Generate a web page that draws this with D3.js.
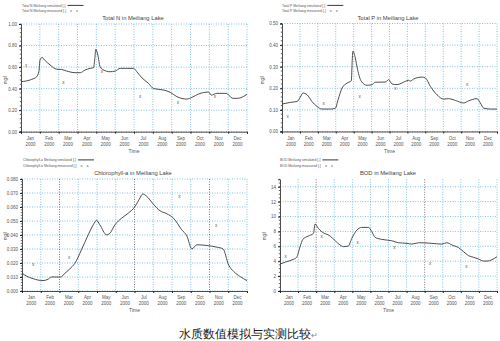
<!DOCTYPE html>
<html><head><meta charset="utf-8">
<script src="https://cdn.jsdelivr.net/npm/d3@7"></script>
<style>body{margin:0;background:#fff}svg{display:block}text{font-family:"Liberation Sans",Arial,sans-serif}</style>
</head><body>
<script>
const monthLabels = ["Jan","Feb","Mar","Apr","May","Jun","Jul","Aug","Sep","Oct","Nov","Dec"];
const yearLabel = "2000";

// Total N (months since Jan 1, value mg/l)
const tnSimT = [0,0.57,0.83,0.95,1.01,1.12,1.25,1.54,1.9,2.15,2.43,2.87,3.15,3.4,3.67,3.85,3.92,3.97,4.08,4.2,4.38,4.73,5.0,5.27,5.6,5.98,6.15,6.42,6.77,7.04,7.57,7.93,8.28,8.81,9.08,9.43,9.96,10.1,10.4,10.9,11.24,11.5,12];
const tnSimV = [0.464,0.486,0.51,0.56,0.666,0.69,0.666,0.62,0.58,0.578,0.563,0.548,0.548,0.573,0.588,0.594,0.68,0.765,0.712,0.604,0.573,0.557,0.563,0.588,0.588,0.588,0.557,0.50,0.449,0.40,0.387,0.365,0.325,0.303,0.319,0.35,0.368,0.34,0.356,0.356,0.31,0.31,0.347];
const tnObsT = [0.27,2.25,4.29,6.33,8.33,10.3];
const tnObsV = [0.613,0.458,0.557,0.325,0.272,0.331];

// Total P
const tpSimT = [0,0.47,0.84,1.02,1.17,1.4,1.67,1.95,2.23,2.7,2.98,3.13,3.35,3.63,3.87,3.92,3.96,4.09,4.22,4.43,4.74,5.02,5.2,5.77,5.95,6.14,6.42,6.88,7.07,7.15,7.35,7.81,8.0,8.28,8.65,9.02,9.3,9.67,10.14,10.42,10.88,11.07,11.26,11.63,12];
const tpSimV = [0.127,0.135,0.139,0.159,0.178,0.17,0.139,0.116,0.104,0.104,0.108,0.147,0.201,0.224,0.235,0.33,0.372,0.341,0.286,0.232,0.214,0.217,0.228,0.229,0.24,0.22,0.217,0.232,0.237,0.233,0.243,0.252,0.248,0.209,0.17,0.15,0.152,0.144,0.132,0.142,0.152,0.132,0.108,0.104,0.104];
const tpObsT = [0.32,2.33,4.33,6.33,10.33];
const tpObsV = [0.07,0.128,0.163,0.201,0.217];

// Chlorophyll-a
const chSimT = [0,0.23,0.59,1.12,1.39,1.57,2.07,2.25,2.55,2.82,3.17,3.53,3.8,3.98,4.15,4.51,4.69,4.96,5.31,5.67,6.03,6.26,6.44,6.65,7.0,7.36,7.72,8.08,8.52,8.79,9.06,9.33,9.86,10.4,10.72,11.02,11.29,11.64,12];
const chSimV = [0.0127,0.0107,0.0088,0.0074,0.0084,0.0100,0.0100,0.0122,0.0158,0.0198,0.0294,0.0401,0.0473,0.0504,0.0473,0.0401,0.0413,0.0473,0.0520,0.0556,0.0604,0.0657,0.0693,0.0676,0.0621,0.0573,0.0552,0.0520,0.0437,0.0394,0.0301,0.0330,0.0325,0.0313,0.0301,0.0186,0.0139,0.0103,0.0074];
const chObsT = [0.59,2.51,8.4,10.36];
const chObsV = [0.0186,0.0241,0.0676,0.0466];

// BOD
const bodSimT = [0,0.37,0.74,0.92,1.11,1.26,1.57,1.85,1.94,2.12,2.31,2.77,3.05,3.32,3.51,3.78,3.97,4.25,4.52,4.89,5.08,5.26,5.63,6.18,6.55,7.02,7.29,7.66,8.4,8.95,9.23,9.51,9.88,10.15,10.43,10.71,10.98,11.26,11.45,12];
const bodSimV = [3.62,3.94,4.25,4.52,5.95,6.93,7.38,7.74,8.99,8.41,7.96,7.38,6.75,6.17,5.95,6.04,7.07,8.18,8.54,8.54,7.96,7.2,6.93,6.75,6.48,6.4,6.3,6.48,6.4,6.3,6.48,6.17,5.81,5.28,4.74,4.52,4.29,4.02,4.02,4.6];
const bodObsT = [0.31,2.31,4.3,6.33,8.31,10.31];
const bodObsV = [4.7,7.38,6.53,5.86,3.71,3.35];

const caption = "水质数值模拟与实测比较";

const svg = d3.select("body").append("svg").attr("width",500).attr("height",341);

function panel(cfg){
  const g = svg.append("g");
  const x = d3.scaleLinear().domain([0,12]).range([cfg.left,cfg.right]);
  const y = d3.scaleLinear().domain([0,cfg.ymax]).range([cfg.bottom,cfg.top]);
  const grid = "#62b4d4";
  cfg.yticks.forEach(v=>{
    g.append("line").attr("x1",cfg.left).attr("x2",cfg.right).attr("y1",y(v)).attr("y2",y(v))
      .attr("stroke",grid).attr("stroke-width",0.8).attr("stroke-dasharray","1,1.5");
  });
  d3.range(1,13).forEach(m=>{
    const dark = (cfg.dark||[]).includes(m);
    g.append("line").attr("x1",x(m)).attr("x2",x(m)).attr("y1",cfg.top).attr("y2",cfg.bottom)
      .attr("stroke",dark?"#555":grid).attr("stroke-width",0.8).attr("stroke-dasharray","1,1.5");
  });
  const ya = d3.axisLeft(y).tickValues(cfg.yticks).tickFormat(cfg.fmt).tickSize(2).tickPadding(2);
  const yg = g.append("g").attr("transform",`translate(${cfg.left},0)`).call(ya);
  yg.select(".domain").attr("stroke","#222").attr("stroke-width",0.8);
  yg.selectAll("text").attr("font-size",4.5).attr("fill","#555");
  yg.selectAll(".tick line").attr("stroke","#222");
  const minor = d3.range(0,cfg.ymax+1e-9,cfg.minor);
  g.selectAll(null).data(minor).enter().append("line")
    .attr("x1",cfg.left-1.2).attr("x2",cfg.left).attr("y1",d=>y(d)).attr("y2",d=>y(d))
    .attr("stroke","#222").attr("stroke-width",0.7);
  const xa = d3.axisBottom(x).tickValues(d3.range(0,13)).tickFormat("").tickSize(2);
  const xg = g.append("g").attr("transform",`translate(0,${cfg.bottom})`).call(xa);
  xg.select(".domain").attr("stroke","#222").attr("stroke-width",0.8);
  xg.selectAll(".tick line").attr("stroke","#222");
  monthLabels.forEach((mn,i)=>{
    g.append("text").attr("x",x(i+0.5)).attr("y",cfg.bottom+8).attr("text-anchor","middle")
      .attr("font-size",4.5).attr("fill","#555").text(mn);
    g.append("text").attr("x",x(i+0.5)).attr("y",cfg.bottom+14).attr("text-anchor","middle")
      .attr("font-size",4.5).attr("fill","#555").text(yearLabel);
  });
  g.append("text").attr("x",(cfg.left+cfg.right)/2).attr("y",cfg.bottom+21).attr("text-anchor","middle")
    .attr("font-size",5).attr("fill","#555").text("Time");
  g.append("text").attr("transform",`translate(${cfg.ylx},${cfg.yly}) rotate(-90)`).attr("text-anchor","middle")
    .attr("font-size",4.5).attr("fill","#555").text("mg/l");
  g.append("text").attr("x",cfg.tx).attr("y",cfg.top-4).attr("text-anchor","middle")
    .attr("font-size",5.8).attr("fill","#444").text(cfg.title);
  // legend
  const t1 = g.append("text").attr("x",cfg.lx).attr("y",cfg.ly).attr("font-size",3.4).attr("fill","#555").text(cfg.leg1);
  const t2 = g.append("text").attr("x",cfg.lx).attr("y",cfg.ly+5.5).attr("font-size",3.4).attr("fill","#555").text(cfg.leg2);
  const w1 = t1.node().getComputedTextLength(), w2 = t2.node().getComputedTextLength();
  g.append("line").attr("x1",cfg.lx+w1+2).attr("x2",cfg.lx+w1+18).attr("y1",cfg.ly-1.1).attr("y2",cfg.ly-1.1).attr("stroke","#222").attr("stroke-width",0.9);
  [cfg.lx+w2+5,cfg.lx+w2+11].forEach(px=>g.append("text").attr("x",px).attr("y",cfg.ly+5.5).attr("text-anchor","middle").attr("font-size",4).attr("fill","#555").text("x"));
  const pts = cfg.st.map((t,i)=>[t,cfg.sv[i]]);
  g.append("path").attr("d",d3.line().x(d=>x(d[0])).y(d=>y(d[1])).curve(d3.curveMonotoneX)(pts))
    .attr("fill","none").attr("stroke","#3a3a3a").attr("stroke-width",0.9);
  cfg.ot.forEach((t,i)=>{
    g.append("text").attr("x",x(t)).attr("y",y(cfg.ov[i])+1.5).attr("text-anchor","middle")
      .attr("font-size",4.6).attr("fill","#555").text("x");
  });
}

panel({left:21,right:247,top:24,bottom:131.7,ymax:1.0,yticks:[0,0.2,0.4,0.6,0.8,1.0],fmt:d3.format(".2f"),minor:0.04,
  title:"Total N in Meiliang Lake",tx:133,leg1:"Total N Meiliang simulated [-]",leg2:"Total N Meiliang measured [-]",lx:22,ly:6.5,
  ylx:7,yly:80,st:tnSimT,sv:tnSimV,ot:tnObsT,ov:tnObsV});
panel({left:282,right:497,top:23.5,bottom:131.5,ymax:0.5,yticks:[0,0.1,0.2,0.3,0.4,0.5],fmt:d3.format(".2f"),minor:0.02,
  title:"Total P in Meiliang Lake",tx:388,leg1:"Total P Meiliang simulated [-]",leg2:"Total P Meiliang measured [-]",lx:282,ly:6.5,
  ylx:264,yly:80,st:tpSimT,sv:tpSimV,ot:tpObsT,ov:tpObsV});
panel({left:22,right:247,top:179,bottom:291,ymax:0.08,yticks:d3.range(0,0.0801,0.01),fmt:d3.format(".3f"),minor:0.002,
  title:"Chlorophyll-a in Meiliang Lake",tx:133,leg1:"Chlorophyll-a Meiliang simulated [-]",leg2:"Chlorophyll-a Meiliang measured [-]",lx:23,ly:161,
  ylx:7,yly:236,dark:[2,6,10],st:chSimT,sv:chSimV,ot:chObsT,ov:chObsV});
panel({left:280,right:497,top:179.3,bottom:291,ymax:15,yticks:[0,2,4,6,8,10,12,14],fmt:d3.format("d"),minor:0.5,
  title:"BOD in Meiliang Lake",tx:388,leg1:"BOD Meiliang simulated [-]",leg2:"BOD Meiliang measured [-]",lx:280,ly:161,
  ylx:266,yly:236,dark:[2,8],st:bodSimT,sv:bodSimV,ot:bodObsT,ov:bodObsV});

const cap = svg.append("text").attr("x",248).attr("y",338).attr("text-anchor","middle")
  .attr("font-family","'Noto Sans CJK SC',sans-serif").attr("font-size",12).attr("fill","#222");
cap.append("tspan").text(caption);
cap.append("tspan").attr("font-size",8).attr("fill","#888").text("↵");
</script>
</body></html>
